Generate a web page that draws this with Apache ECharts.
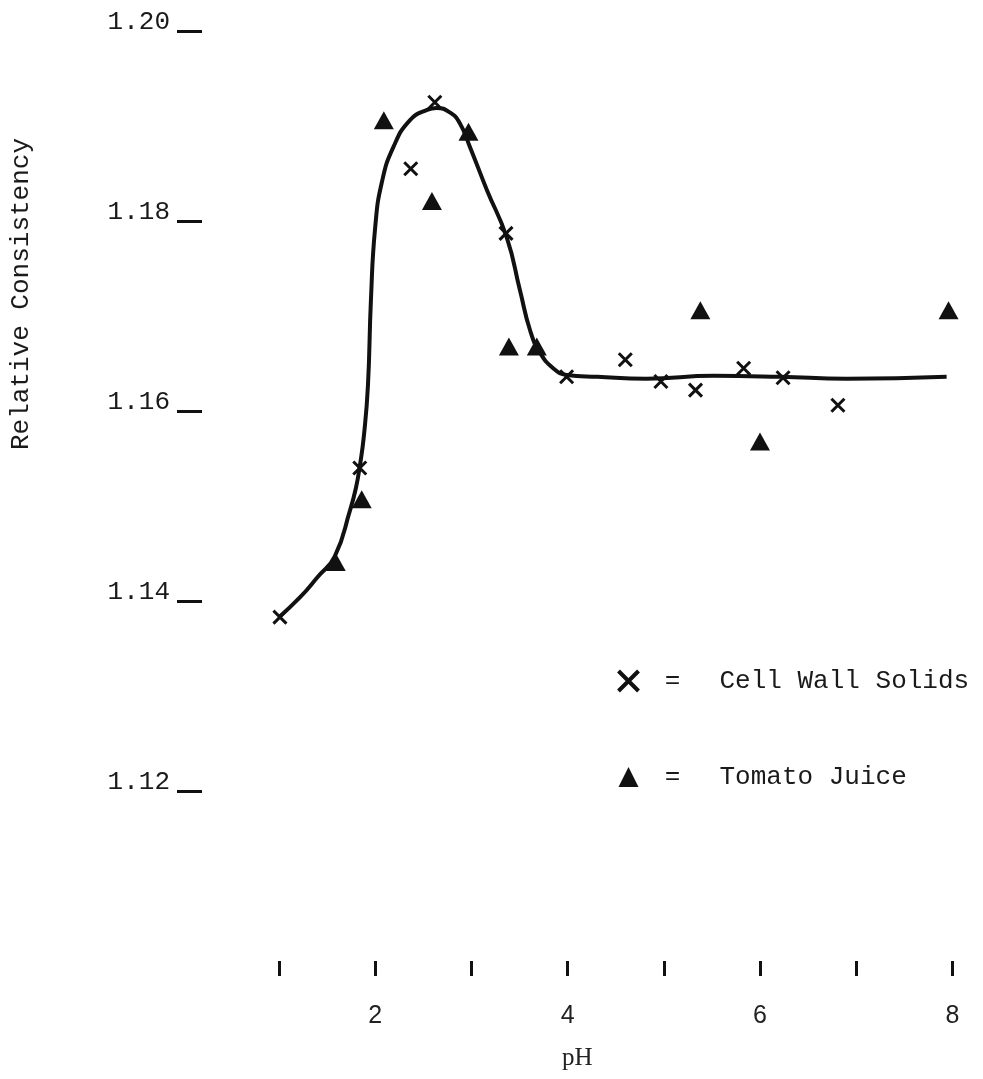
<!DOCTYPE html>
<html>
<head>
<meta charset="utf-8">
<title>Relative Consistency vs pH</title>
<script src="https://cdn.jsdelivr.net/npm/echarts@6/dist/echarts.min.js"></script>
<style>
  html, body { margin: 0; padding: 0; background: #fff; }
  #chart { width: 983px; height: 1079px; }
</style>
</head>
<body>
<div id="chart"></div>
<script>
// Cell wall solids measurements: [pH, relative consistency]
const cellWallSolids = [
  [1.01, 1.1383], [1.84, 1.1540], [2.37, 1.1855], [2.62, 1.1925],
  [3.36, 1.1787], [3.99, 1.1636], [4.60, 1.1654], [4.97, 1.1631],
  [5.33, 1.1622], [5.83, 1.1645], [6.24, 1.1635], [6.81, 1.1606]
];

// Tomato juice measurements: [pH, relative consistency]
const tomatoJuice = [
  [1.59, 1.1441], [1.86, 1.1507], [2.09, 1.1906], [2.59, 1.1821],
  [2.97, 1.1894], [3.39, 1.1668], [3.68, 1.1668], [5.38, 1.1706],
  [6.00, 1.1568], [7.96, 1.1706]
];

// Hand-fitted trend curve through both sets
const trendCurve = [
  [1.00, 1.1383], [1.22, 1.1404], [1.40, 1.1425], [1.58, 1.1447],
  [1.74, 1.1496], [1.80, 1.1519], [1.842, 1.1543], [1.884, 1.1575],
  [1.925, 1.1627], [1.956, 1.1717], [2.00, 1.1793], [2.07, 1.1841],
  [2.19, 1.1878], [2.36, 1.1906], [2.54, 1.1917], [2.64, 1.1919],
  [2.78, 1.1914], [2.88, 1.1903], [2.985, 1.1878], [3.16, 1.1833],
  [3.37, 1.1782], [3.505, 1.1727], [3.61, 1.1685], [3.71, 1.1662],
  [3.85, 1.1645], [3.99, 1.1638], [4.31, 1.1636], [4.82, 1.1634],
  [5.52, 1.1637], [6.21, 1.1636], [6.90, 1.1634], [7.94, 1.1636]
];

const yTickValues = [1.12, 1.14, 1.16, 1.18, 1.20];
const xTickValues = [1, 2, 3, 4, 5, 6, 7, 8];
const xLabelValues = [2, 4, 6, 8];

const ink = '#111';
const monoFont = '"Liberation Mono", "DejaVu Sans Mono", monospace';
const crossPath = 'path://M0,0L10,10M10,0L0,10';

const chart = echarts.init(document.getElementById('chart'), null, { renderer: 'canvas' });

chart.setOption({
  backgroundColor: '#ffffff',
  animation: false,
  grid: { left: 202, right: 30.6, top: 31, bottom: 98, containLabel: false },
  xAxis: {
    type: 'value',
    min: 0.2,
    max: 8,
    offset: -5,
    name: 'pH',
    nameLocation: 'middle',
    nameGap: 70,
    nameTextStyle: { fontFamily: '"Liberation Serif", serif', fontSize: 25, color: '#222' },
    axisLine: { show: false },
    splitLine: { show: false },
    axisTick: {
      show: true, inside: true, length: 15,
      customValues: xTickValues,
      lineStyle: { color: ink, width: 3 }
    },
    axisLabel: {
      customValues: xLabelValues,
      margin: 28,
      fontFamily: '"Liberation Sans", sans-serif',
      fontSize: 25,
      color: '#222'
    }
  },
  yAxis: {
    type: 'value',
    min: 1.10,
    max: 1.20,
    axisLine: { show: false },
    splitLine: { show: false },
    axisTick: {
      show: true, length: 25,
      customValues: yTickValues,
      lineStyle: { color: ink, width: 3 }
    },
    axisLabel: {
      customValues: yTickValues,
      margin: 32,
      verticalAlign: 'bottom',
      lineHeight: 17,
      fontFamily: monoFont,
      fontSize: 26,
      color: '#1a1a1a',
      formatter: v => v.toFixed(2)
    }
  },
  legend: {
    orient: 'vertical',
    left: 611,
    top: 663,
    itemGap: 70,
    itemWidth: 20,
    itemHeight: 20,
    data: [
      { name: 'Cell Wall Solids', icon: crossPath, itemStyle: { color: 'none', borderColor: ink, borderWidth: 4, opacity: 1 } },
      { name: 'Tomato Juice', icon: 'triangle', itemStyle: { color: ink, opacity: 1 } }
    ],
    formatter: name => '{eq|=}{t|' + name + '}',
    textStyle: {
      fontFamily: monoFont,
      fontSize: 26,
      color: '#1a1a1a',
      rich: {
        eq: { width: 58, align: 'center', fontFamily: monoFont, fontSize: 26, color: '#1a1a1a' },
        t: { padding: [0, 0, 0, 18], fontFamily: monoFont, fontSize: 26, color: '#1a1a1a' }
      }
    }
  },
  graphic: [{
    type: 'text',
    left: 8,
    top: 138,
    rotation: Math.PI / 2,
    style: {
      text: 'Relative Consistency',
      font: '26px ' + monoFont,
      fill: '#1a1a1a'
    }
  }],
  series: [
    {
      name: 'Trend',
      type: 'line',
      data: trendCurve,
      smooth: 0.5,
      showSymbol: false,
      lineStyle: { color: ink, width: 4 },
      silent: true,
      z: 1
    },
    {
      name: 'Cell Wall Solids',
      type: 'scatter',
      data: cellWallSolids,
      symbol: crossPath,
      symbolSize: 13,
      itemStyle: { color: 'none', borderColor: ink, borderWidth: 3, opacity: 1 },
      z: 3
    },
    {
      name: 'Tomato Juice',
      type: 'scatter',
      data: tomatoJuice,
      symbol: 'triangle',
      symbolSize: [20, 18],
      itemStyle: { color: ink, opacity: 1 },
      z: 3
    }
  ]
});
</script>
</body>
</html>
